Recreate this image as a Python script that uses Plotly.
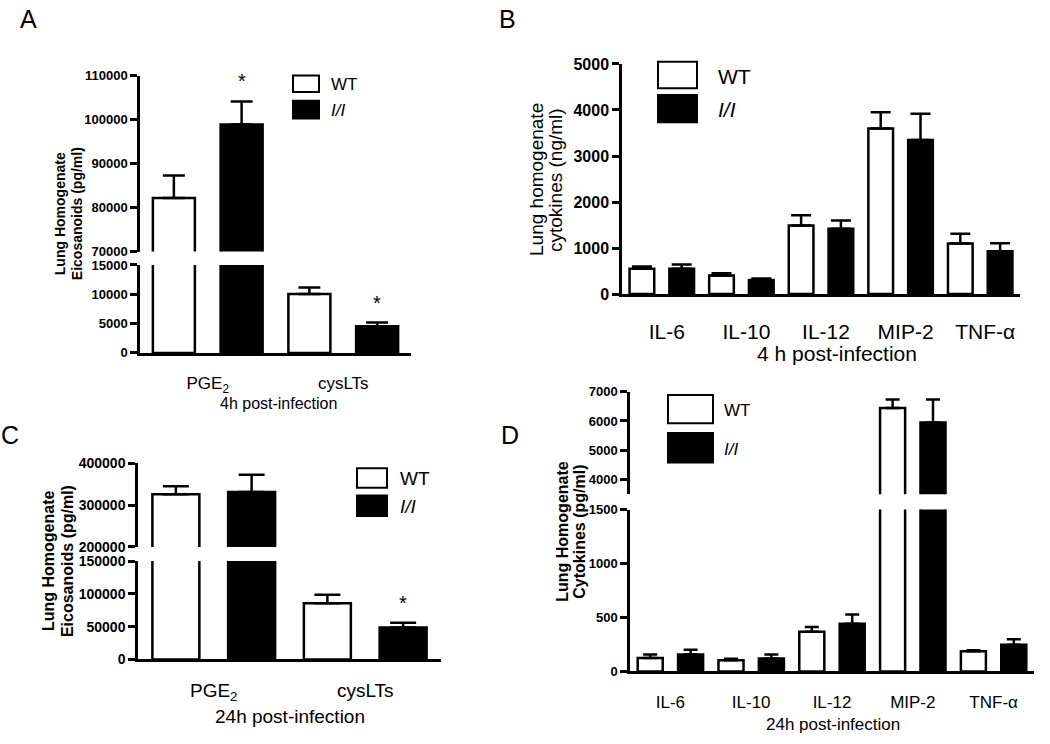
import plotly.graph_objects as go

W, H = 1050, 744
FONT = "Liberation Sans, Arial, Helvetica, sans-serif"

# ---------------- data ----------------
groups = ["WT", "I/I"]

# Panel A: eicosanoids, 4 h (pg/ml)
A_categories = ["PGE2", "cysLTs"]
A_ticktext = ["PGE<sub>2</sub>", "cysLTs"]
A_wt = [82200, 10050]
A_wt_err = [5100, 1100]
A_ll = [98900, 4550]
A_ll_err = [5250, 620]
A_ll_sig = [True, True]

# Panel B: cytokines, 4 h (ng/ml)
B_categories = ["IL-6", "IL-10", "IL-12", "MIP-2", "TNF-α"]
B_wt = [550, 400, 1490, 3600, 1100]
B_wt_err = [50, 50, 220, 350, 210]
B_ll = [550, 305, 1420, 3350, 930]
B_ll_err = [90, 30, 180, 570, 175]

# Panel C: eicosanoids, 24 h (pg/ml)
C_categories = ["PGE2", "cysLTs"]
C_ticktext = ["PGE<sub>2</sub>", "cysLTs"]
C_wt = [325900, 85700]
C_wt_err = [19500, 12800]
C_ll = [331300, 48600]
C_ll_err = [41600, 7400]
C_ll_sig = [False, True]

# Panel D: cytokines, 24 h (pg/ml)
D_categories = ["IL-6", "IL-10", "IL-12", "MIP-2", "TNF-α"]
D_wt = [126, 105, 367, 6444, 187]
D_wt_err = [31, 12, 46, 288, 9]
D_ll = [157, 120, 443, 5952, 247]
D_ll_err = [45, 37, 84, 780, 51]

# axis ticks
A_low_ticks = [0, 5000, 10000, 15000]
A_up_ticks = [70000, 80000, 90000, 100000, 110000]
B_ticks = [0, 1000, 2000, 3000, 4000, 5000]
C_low_ticks = [0, 50000, 100000, 150000]
C_up_ticks = [200000, 300000, 400000]
D_low_ticks = [0, 500, 1000, 1500]
D_up_ticks = [4000, 5000, 6000, 7000]


# ---------------- helpers ----------------
def xdom(a, b):
    return [a / W, b / W]


def ydom(top, bottom):
    return [1 - bottom / H, 1 - top / H]


def px(x):
    return x / W


def py(y):
    return 1 - y / H


fig = go.Figure()


def add_bars(cats, wt, wt_err, ll, ll_err, xa, ya, capw):
    for name, vals, errs, fill in [("WT", wt, wt_err, "white"), ("I/I", ll, ll_err, "black")]:
        fig.add_trace(go.Bar(
            x=cats, y=vals, name=name, xaxis=xa, yaxis=ya,
            marker=dict(color=fill, line=dict(color="black", width=2.5)),
            error_y=dict(type="data", symmetric=False, array=errs,
                         arrayminus=[0] * len(errs), color="black",
                         thickness=2.5, width=capw),
            showlegend=False, hoverinfo="skip",
        ))


# A
add_bars(A_categories, A_wt, A_wt_err, A_ll, A_ll_err, "x", "y", 11)
add_bars(A_categories, A_wt, A_wt_err, A_ll, A_ll_err, "x", "y2", 11)
# B
add_bars(B_categories, B_wt, B_wt_err, B_ll, B_ll_err, "x2", "y3", 10)
# C
add_bars(C_categories, C_wt, C_wt_err, C_ll, C_ll_err, "x3", "y4", 13)
add_bars(C_categories, C_wt, C_wt_err, C_ll, C_ll_err, "x3", "y5", 13)
# D
add_bars(D_categories, D_wt, D_wt_err, D_ll, D_ll_err, "x4", "y6", 7)
add_bars(D_categories, D_wt, D_wt_err, D_ll, D_ll_err, "x4", "y7", 7)


def xaxis(dom, anchor, cats, ticktext, size, standoff, shift=0):
    return dict(domain=xdom(*dom), anchor=anchor, type="category",
                categoryorder="array", categoryarray=cats,
                range=[-0.5, len(cats) - 0.5],
                tickvals=cats, ticktext=ticktext,
                showline=True, linecolor="black", linewidth=2.5,
                ticks="", showgrid=False, zeroline=False,
                ticklabelstandoff=standoff, ticklabelshift=shift,
                tickfont=dict(family=FONT, size=size, color="black"),
                fixedrange=True)


def yaxis(dom, anchor, rng, ticks, size):
    return dict(domain=ydom(*dom), anchor=anchor, range=rng,
                tickvals=ticks,
                ticktext=["<b>%d</b>" % t for t in ticks],
                showline=True, linecolor="black", linewidth=2.5,
                ticks="outside", ticklen=7, tickwidth=2.5, tickcolor="black",
                showgrid=False, zeroline=False,
                tickfont=dict(family=FONT, size=size, color="black"),
                fixedrange=True)


layout = dict(
    width=W, height=H, autosize=False,
    margin=dict(l=0, r=0, t=0, b=0),
    paper_bgcolor="white", plot_bgcolor="white",
    barmode="group", bargap=0, bargroupgap=0.38,
    font=dict(family=FONT, color="black"),
    showlegend=False,
    xaxis=xaxis((140, 411), "y", A_categories, A_ticktext, 17, 13),
    yaxis=yaxis((263, 353), "x", [0, 15000], A_low_ticks, 13),
    yaxis2=yaxis((69.3, 249.3), "x", [70000, 110000], A_up_ticks, 13),
    xaxis2=xaxis((622, 1020), "y3", B_categories, B_categories, 21, 17, 5),
    yaxis3=yaxis((57.3, 292.7), "x2", [0, 5000], B_ticks, 16),
    xaxis3=xaxis((138, 441), "y4", C_categories, C_ticktext, 19, 12),
    yaxis4=yaxis((566, 666.7), "x3", [0, 150000], C_low_ticks, 14),
    yaxis5=yaxis((466, 551.5), "x3", [200000, 400000], C_up_ticks, 14),
    xaxis4=xaxis((630, 1034), "y6", D_categories, D_categories, 17, 13),
    yaxis6=yaxis((513.3, 679), "x4", [0, 1500], D_low_ticks, 13),
    yaxis7=yaxis((392.7, 497.5), "x4", [3500, 7000], D_up_ticks, 13),
)
fig.update_layout(**layout)

ann = []
shapes = []


def text(x, y, s, size, angle=0, bold=False, italic=False, xanchor="center"):
    if italic:
        s = "<i>" + s + "</i>"
    if bold:
        s = "<b>" + s + "</b>"
    ann.append(dict(x=px(x), y=py(y), xref="paper", yref="paper", text=s,
                    showarrow=False, textangle=angle, xanchor=xanchor,
                    yanchor="middle",
                    font=dict(family=FONT, size=size, color="black")))


# panel letters
text(28, 11, "A", 25)
text(507, 11, "B", 25)
text(10, 437, "C", 25)
text(510, 437, "D", 25)

# y titles
text(60, 211, "Lung Homogenate", 14, -90, bold=True)
text(77, 211, "Eicosanoids (pg/ml)", 14, -90, bold=True)
text(537, 176, "Lung homogenate", 19, -90)
text(556, 176, "cytokines (ng/ml)", 19, -90)
text(48, 566, "Lung Homogenate", 16, -90, bold=True)
text(67, 566, "Eicosanoids (pg/ml)", 16, -90, bold=True)
text(563, 536, "Lung Homogenate", 16, -90, bold=True)
text(580, 536, "Cytokines (pg/ml)", 16, -90, bold=True)

# x titles
text(278, 405, "4h post-infection", 16)
text(837, 354, "4 h post-infection", 21)
text(290, 725, "24h post-infection", 19)
text(833, 733, "24h post-infection", 17)


# legends
def legend(x0, x1, y_wt, y_ll, tx, ty_wt, ty_ll, size):
    for (ya, yb), fill in [(y_wt, "white"), (y_ll, "black")]:
        shapes.append(dict(type="rect", xref="paper", yref="paper",
                           x0=px(x0), x1=px(x1), y0=py(yb), y1=py(ya),
                           line=dict(color="black", width=2), fillcolor=fill))
    text(tx, ty_wt, groups[0], size, xanchor="left")
    text(tx, ty_ll, groups[1], size, italic=True, xanchor="left")


legend(293, 319, (69, 86), (95, 113), 329, 78, 105, 17)
legend(658, 697, (55, 82), (89, 117), 716, 70, 104, 21)
legend(357, 387, (471, 491), (499, 520), 398, 482, 510, 19)
legend(668, 713, (396, 425), (435, 465), 722, 412, 452, 17)


# significance stars over I/I bars
def stars(vals, errs, sig, xref, segs):
    for i, (v, e, s) in enumerate(zip(vals, errs, sig)):
        if not s:
            continue
        top = v + e
        for yref, (lo, hi) in segs:
            if lo <= top <= hi:
                ann.append(dict(x=i + 0.25, y=top, xref=xref, yref=yref,
                                text="*", showarrow=False, yanchor="middle",
                                yshift=20,
                                font=dict(family=FONT, size=20, color="black")))
                break


stars(A_ll, A_ll_err, A_ll_sig, "x", [("y", (0, 15000)), ("y2", (70000, 110000))])
stars(C_ll, C_ll_err, C_ll_sig, "x3", [("y4", (0, 150000)), ("y5", (200000, 400000))])

fig.update_layout(annotations=ann, shapes=shapes)
fig.write_html(
    "out.html",
    config={"displayModeBar": False},
    post_script=("document.documentElement.style.margin='0px';"
                 "document.body.style.margin='0px';"
                 "document.body.style.overflow='hidden';"
                 "document.documentElement.style.overflow='hidden';"),
)
